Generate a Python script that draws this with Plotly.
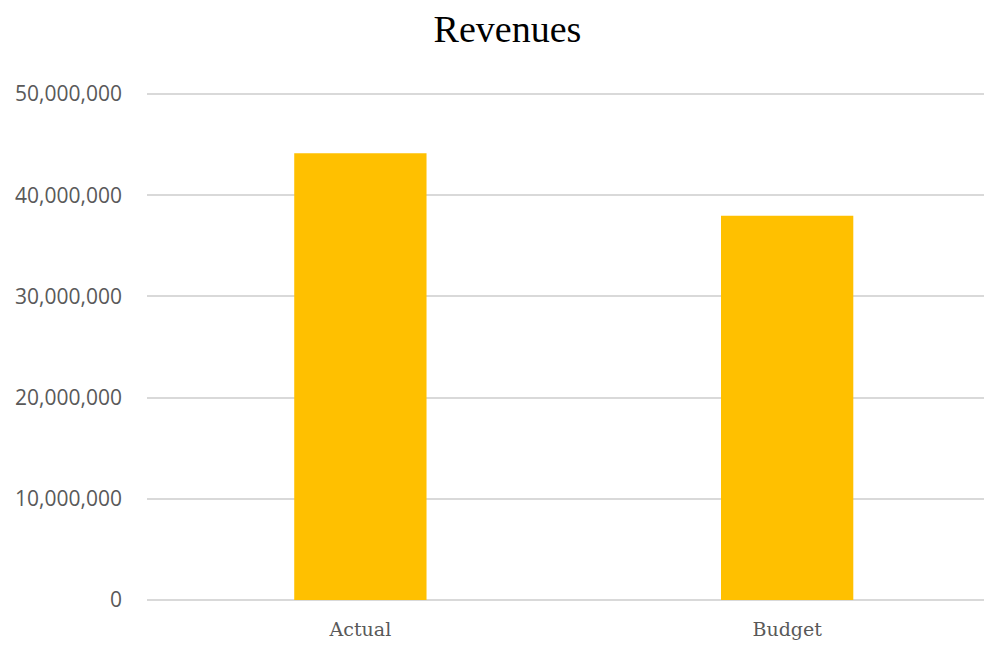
import plotly.graph_objects as go

categories = ["Actual", "Budget"]
revenues = [44150000, 37980000]
y_ticks = [0, 10000000, 20000000, 30000000, 40000000, 50000000]
title_text = "Revenues"

fig = go.Figure(
    go.Bar(
        x=categories,
        y=revenues,
        marker=dict(color="#FFC000", line=dict(width=0)),
    )
)

fig.update_layout(
    width=992,
    height=639,
    paper_bgcolor="white",
    plot_bgcolor="white",
    margin=dict(l=139, r=8, t=85, b=47),
    bargap=0.69,
    showlegend=False,
    title=dict(
        text=title_text,
        x=0.5035,
        xanchor="center",
        y=0.968,
        yanchor="middle",
        font=dict(family="Liberation Serif", size=38, color="#000000"),
    ),
)

fig.update_xaxes(
    range=[-0.5, 1.48],
    showgrid=False,
    showline=False,
    zeroline=False,
    ticks="",
    ticklabelstandoff=16,
    tickfont=dict(family="DejaVu Serif", size=19, color="#595959"),
)

fig.update_yaxes(
    range=[0, 50100000],
    tickvals=y_ticks,
    tickformat=",d",
    showgrid=True,
    gridcolor="#d9d9d9",
    gridwidth=1.5,
    zeroline=True,
    zerolinecolor="#d9d9d9",
    zerolinewidth=1.5,
    showline=False,
    ticks="",
    ticklabelstandoff=24,
    tickfont=dict(family="Open Sans", size=21, color="#595959"),
)

fig.write_html("out.html")
